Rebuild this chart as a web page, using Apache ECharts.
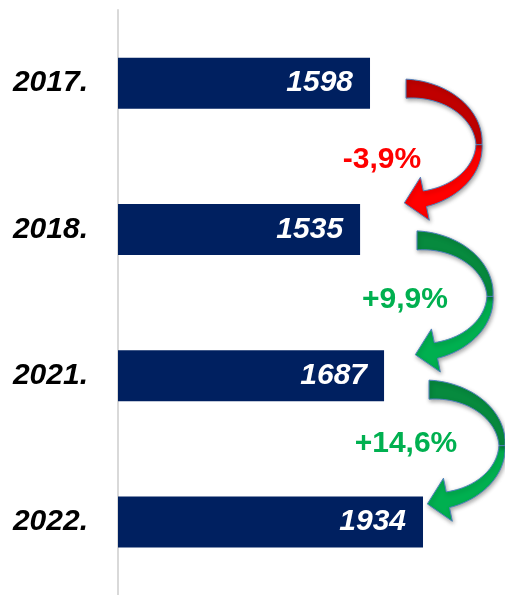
<!DOCTYPE html>
<html>
<head>
<meta charset="utf-8">
<script src="https://cdn.jsdelivr.net/npm/echarts@6/dist/echarts.min.js"></script>
<style>
  html, body { margin: 0; padding: 0; background: #ffffff; }
  #main { width: 505px; height: 595px; }
</style>
</head>
<body>
<div id="main"></div>
<script>
// Data
const years = ['2017.', '2018.', '2021.', '2022.'];
const values = [1598, 1535, 1687, 1934];
const changes = ['-3,9%', '+9,9%', '+14,6%'];

const FONT = "'Liberation Sans', Arial, sans-serif";
const NAVY = '#002060';

// Arrow colours: [back half, front half, label]
const ARROW_COLORS = [
  ['#c00000', '#ff0000', '#ff0000'],
  ['#078a3e', '#00b050', '#00b050'],
  ['#078a3e', '#00b050', '#00b050'],
];

// Arrow placement (pixels): tail x, tail offset below bar centre, label offset
const ARROW_X = [406, 417, 429];
const ARROW_DY = [5.5, 11, 14];
const LABEL_POS = [[-24, 71], [-12, 59.5], [-23, 54.5]];

// Curved arrow built on an ellipse midline
function arrowPolys(cx, yA) {
  const rx = 73, ry = 56, cy = yA + ry;
  const rad = d => d * Math.PI / 180;
  const pt = (deg, off) => {
    const t = rad(deg);
    const nx = ry * Math.cos(t), ny = rx * Math.sin(t);
    const len = Math.hypot(nx, ny);
    return [cx + rx * Math.cos(t) + nx / len * off, cy + ry * Math.sin(t) + ny / len * off];
  };
  // thickness along the ribbon
  const w = deg => deg <= 0 ? 6 + (19 - 6) * (-deg / 90) : 6 + (16 - 6) * (deg / 75);

  const back = [];
  for (let d = -90; d <= 0; d += 3) back.push(pt(d, w(d) / 2));
  for (let d = 0; d >= -90; d -= 3) back.push(pt(d, -w(d) / 2));

  const front = [];
  const end = 75;
  for (let d = 0; d <= end; d += 3) front.push(pt(d, w(d) / 2));
  const t = rad(end);
  let tx = -rx * Math.sin(t), ty = ry * Math.cos(t);
  const tl = Math.hypot(tx, ty); tx /= tl; ty /= tl;
  const base = pt(end, 0);
  front.push(pt(end, 22));
  front.push([base[0] + tx * 21, base[1] + ty * 21]);
  front.push(pt(end, -22));
  for (let d = end; d >= 0; d -= 3) front.push(pt(d, -w(d) / 2));
  return { back, front };
}

const chart = echarts.init(document.getElementById('main'), null, { renderer: 'canvas' });

const option = {
  backgroundColor: '#ffffff',
  animation: false,
  grid: { left: 118, right: 8.5, top: 10, height: 589 },
  xAxis: {
    type: 'value',
    min: 0,
    max: 2400,
    show: false,
  },
  yAxis: {
    type: 'category',
    data: years,
    inverse: true,
    axisLine: { show: true, lineStyle: { color: '#d9d9d9', width: 2 } },
    axisTick: { show: false },
    axisLabel: {
      margin: 30,
      color: '#000000',
      fontSize: 30,
      fontWeight: 'bold',
      fontStyle: 'italic',
      fontFamily: FONT,
    },
  },
  series: [
    {
      type: 'bar',
      data: values,
      barWidth: 51,
      itemStyle: { color: NAVY },
      label: {
        show: true,
        position: 'insideRight',
        distance: 17,
        color: '#ffffff',
        fontSize: 30,
        fontWeight: 'bold',
        fontStyle: 'italic',
        fontFamily: FONT,
      },
    },
    {
      type: 'custom',
      data: changes.map((c, i) => [0, i]),
      encode: { x: 0, y: 1 },
      clip: false,
      z: 5,
      renderItem: (params, api) => {
        const i = params.dataIndex;
        const y = api.coord([0, i])[1];
        const cx = ARROW_X[i];
        const yA = y + ARROW_DY[i];
        const { back, front } = arrowPolys(cx, yA);
        const [dark, light, txt] = ARROW_COLORS[i];
        const shadow = { shadowBlur: 4, shadowColor: 'rgba(0,0,0,0.35)', shadowOffsetX: 1, shadowOffsetY: 2 };
        return {
          type: 'group',
          children: [
            {
              type: 'polygon',
              shape: { points: front },
              style: Object.assign({ fill: light, stroke: '#4f81bd', lineWidth: 1 }, shadow),
            },
            {
              type: 'polygon',
              shape: { points: back },
              style: Object.assign({ fill: dark, stroke: '#4f81bd', lineWidth: 1 }, shadow),
            },
            {
              type: 'text',
              x: cx + LABEL_POS[i][0],
              y: yA + LABEL_POS[i][1],
              style: {
                text: changes[i],
                fill: txt,
                font: 'bold 30px ' + FONT,
                align: 'center',
                verticalAlign: 'middle',
              },
            },
          ],
        };
      },
    },
  ],
};

chart.setOption(option);
</script>
</body>
</html>
